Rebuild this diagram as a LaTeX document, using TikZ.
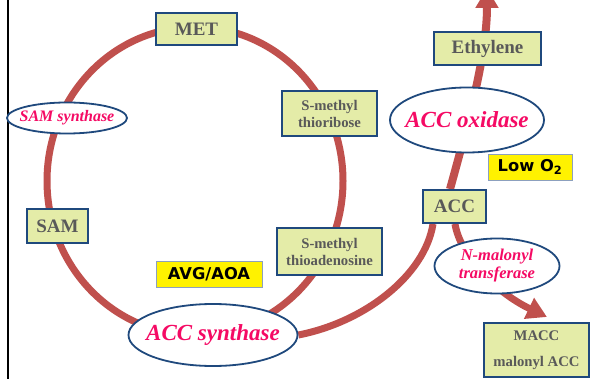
\documentclass[tikz,border=0pt]{standalone}
\usepackage{fontspec}
\setmainfont{Liberation Serif}
\newfontfamily\labsans{DejaVu Sans}
\usetikzlibrary{arrows.meta,shapes.geometric}
\pgfdeclarelayer{bg}
\pgfsetlayers{bg,main}
\definecolor{pathred}{RGB}{192,80,77}
\definecolor{boxblue}{RGB}{31,73,125}
\definecolor{boxfill}{RGB}{228,236,168}
\definecolor{boxtext}{RGB}{89,89,89}
\definecolor{enzpink}{RGB}{245,10,100}
\definecolor{warnedge}{RGB}{140,160,190}
\begin{document}
\begin{tikzpicture}[x=1pt,y=-1pt,
  box/.style={draw=boxblue, line width=1.8pt, fill=boxfill, text=boxtext, inner sep=0pt, align=center},
  enz/.style={ellipse, draw=boxblue, line width=1.8pt, fill=white, text=enzpink, inner sep=0pt},
  warn/.style={draw=warnedge, line width=0.8pt, fill=yellow, inner sep=0pt},
  flow/.style={draw=pathred, line width=7pt},
  bigbox/.style={font=\bfseries\fontsize{19}{23}\selectfont},
  smallbox/.style={font=\bfseries\fontsize{14.7}{17}\selectfont},
  bigenz/.style={font=\bfseries\itshape\fontsize{23}{27}\selectfont},
  warnfont/.style={font=\labsans\bfseries\fontsize{16.3}{19}\selectfont}]
\useasboundingbox (0,0) rectangle (594,379);

% boxes
\node[box, bigbox, minimum width=81pt, minimum height=32pt] (met) at (196.5,29) {MET};
\node[box, smallbox, minimum width=95pt, minimum height=45pt] (smtr) at (329.5,113.5) {S-methyl\\thioribose};
\node[box, bigbox, minimum width=61pt, minimum height=34pt] (sam) at (57.5,226) {SAM};
\node[box, smallbox, minimum width=105pt, minimum height=47pt] (smta) at (329.5,251.5) {S-methyl\\thioadenosine};
\node[box, bigbox, minimum width=63pt, minimum height=33pt] (acc) at (454.5,206.5) {ACC};
\node[box, bigbox, minimum width=107pt, minimum height=33pt] (eth) at (487.5,48.5) {Ethylene};
\node[box, font=\bfseries\fontsize{14.7}{26}\selectfont, minimum width=105pt, minimum height=54pt] (macc) at (536.5,350) {MACC\\malonyl ACC};

% enzymes
\node[enz, font=\bfseries\itshape\fontsize{16}{19}\selectfont, minimum width=120pt, minimum height=31pt] (samsyn) at (67,118) {\makebox[0pt]{SAM synthase}};
\node[enz, bigenz, minimum width=154pt, minimum height=65pt] (accox) at (467,120) {\makebox[0pt]{ACC oxidase}};
\node[enz, bigenz, minimum width=169pt, minimum height=62pt] (accs) at (213,335) {\makebox[0pt]{ACC synthase}};
\node[enz, font=\bfseries\itshape\fontsize{16.5}{18}\selectfont, minimum width=125pt, minimum height=55pt] (nmt) at (497,266) {\makebox[0pt]{\begin{tabular}{@{}c@{}}N-malonyl\\transferase\end{tabular}}};

% inhibitors / conditions
\node[warn, warnfont, minimum width=84pt, minimum height=26pt] (lowo) at (530,167) {Low O\textsubscript{2}};
\node[warn, warnfont, minimum width=106pt, minimum height=26pt] (avg) at (209,274) {AVG/AOA};

\coordinate (ethtip) at (487,-12);
\coordinate (macctip) at (547,317);

\begin{pgfonlayer}{bg}
  \fill[white] (0,0) rectangle (594,379);
  \draw[black, line width=2pt] (8,0) -- (8,379);
  \draw[flow] (195,181) ellipse [x radius=148pt, y radius=154pt];
  \draw[flow] (accs.east) .. controls (365,322) and (425,275) .. ([xshift=-21.5pt]acc.south);
  \draw[flow, line width=8pt, -{Triangle[width=22pt,length=20pt]}] ([xshift=-4.5pt]acc.north) .. controls (472,110) and (487,50) .. (ethtip);
  \draw[flow, -{Triangle[width=22pt,length=20pt]}] ([xshift=0.5pt]acc.south) .. controls (460,255) and (495,292) .. (macctip);
\end{pgfonlayer}
\end{tikzpicture}
\end{document}
